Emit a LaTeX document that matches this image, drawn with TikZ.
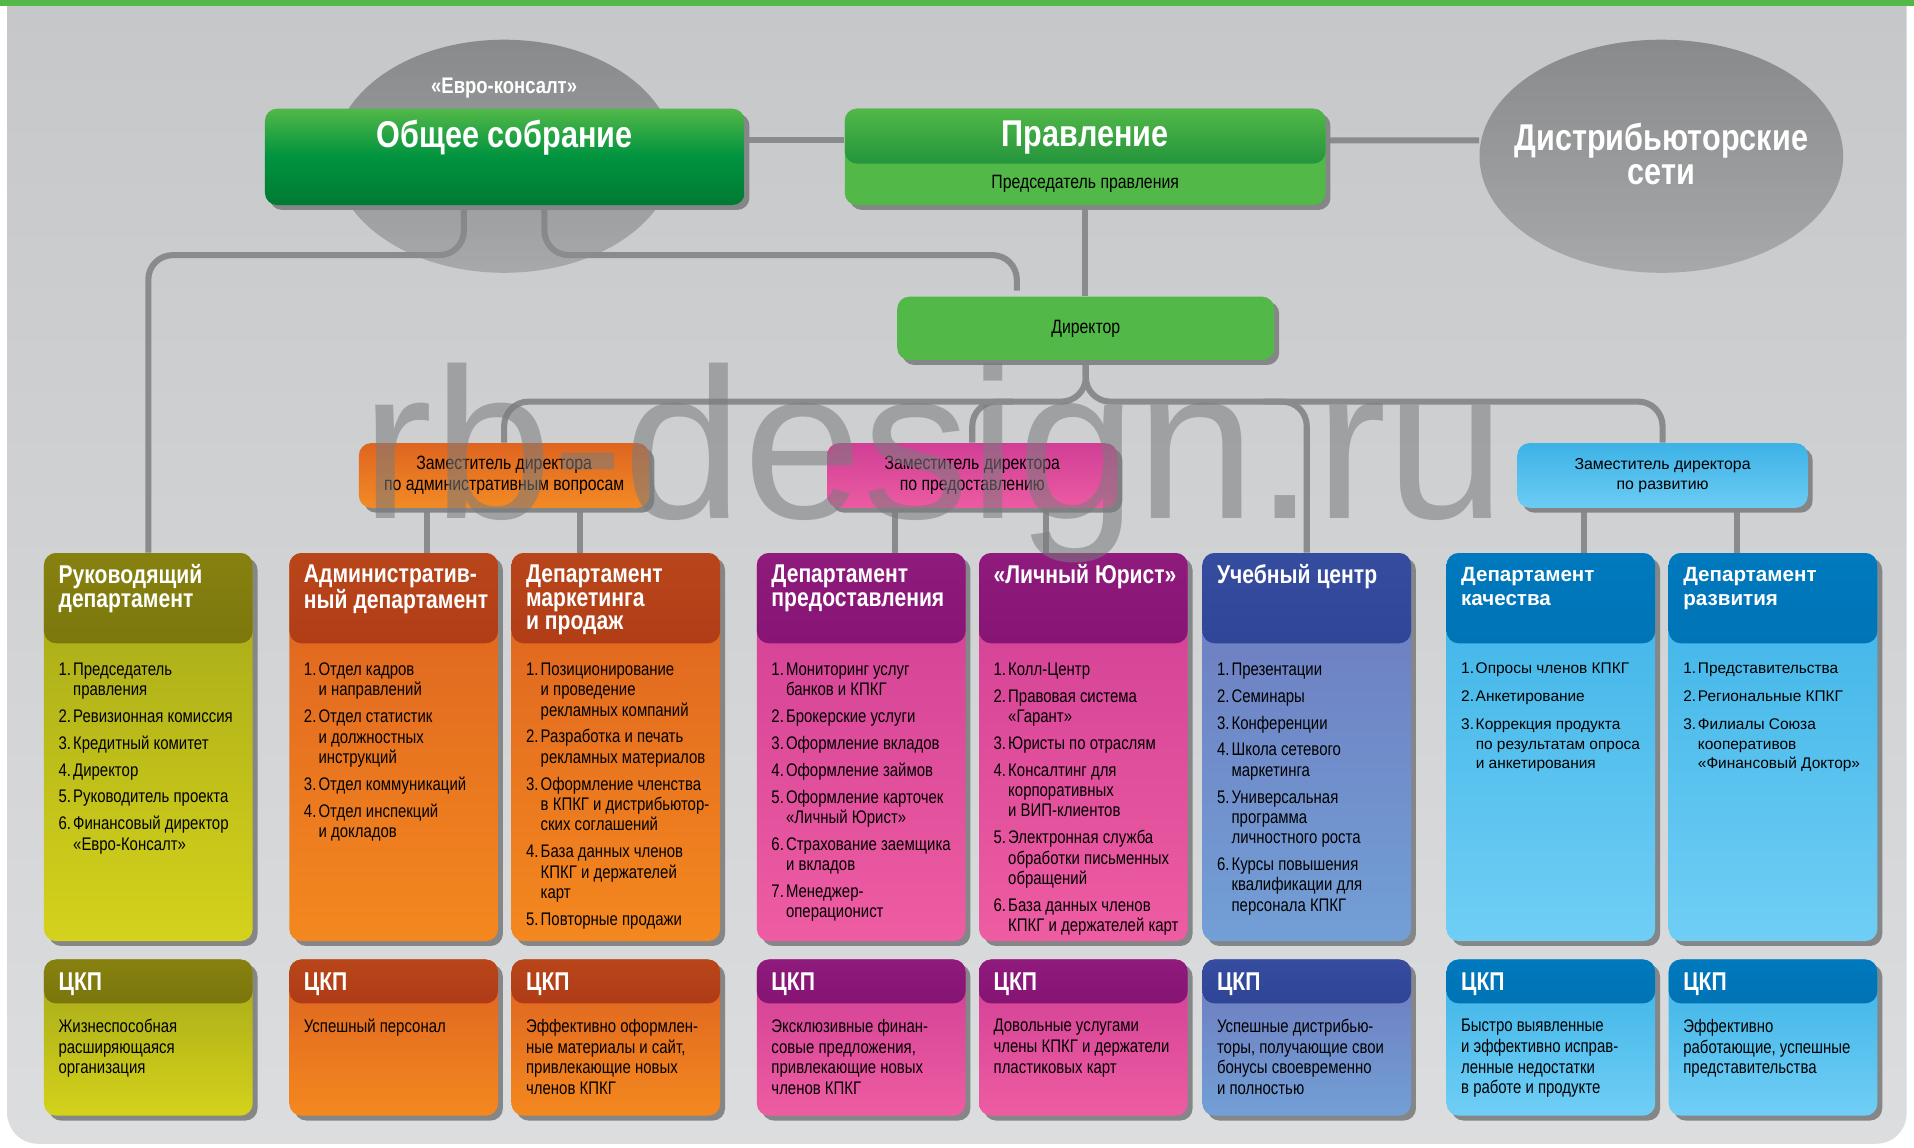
\documentclass[tikz,border=0pt]{standalone}
\usepackage{fontspec}
\setmainfont{Liberation Sans}
\newfontfamily\cond{Liberation Sans}[FakeStretch=0.82]
\usetikzlibrary{positioning}
\usetikzlibrary{shapes.geometric}
\usetikzlibrary{shadows}
\pgfdeclarelayer{bg}
\pgfdeclarelayer{lines}
\pgfdeclarelayer{halo}
\pgfdeclarelayer{front}
\pgfsetlayers{bg,lines,halo,main,front}
\definecolor{panA}{HTML}{C5C6C8}
\definecolor{panB}{HTML}{DCDDDF}
\definecolor{grn}{HTML}{52B848}
\definecolor{mgrn}{HTML}{00933F}
\definecolor{dgrn}{HTML}{007A33}
\definecolor{conngray}{HTML}{8A8B8D}
\definecolor{shdgray}{HTML}{858688}
\definecolor{haloA}{HTML}{606163}
\definecolor{haloB}{HTML}{909193}
\definecolor{wmgray}{HTML}{7A7B7D}
\definecolor{olA}{HTML}{86810F}
\definecolor{olB}{HTML}{5F5A05}
\definecolor{olC}{HTML}{A4A719}
\definecolor{olD}{HTML}{D4D21B}
\definecolor{ruA}{HTML}{B9461A}
\definecolor{ruB}{HTML}{94200D}
\definecolor{ruC}{HTML}{DC6120}
\definecolor{ruD}{HTML}{F4881F}
\definecolor{plA}{HTML}{8F1B7D}
\definecolor{plB}{HTML}{6B0158}
\definecolor{plC}{HTML}{CF3E94}
\definecolor{plD}{HTML}{EE5CA2}
\definecolor{nvA}{HTML}{364C9F}
\definecolor{nvB}{HTML}{1C317E}
\definecolor{nvC}{HTML}{6E79BD}
\definecolor{nvD}{HTML}{729FD6}
\definecolor{skA}{HTML}{0079BE}
\definecolor{skB}{HTML}{00649C}
\definecolor{skC}{HTML}{3AB2E6}
\definecolor{skD}{HTML}{70CEF5}
\definecolor{orA}{HTML}{DF6520}
\definecolor{orB}{HTML}{F28A25}
\definecolor{pkA}{HTML}{D03F95}
\definecolor{pkB}{HTML}{EC5BA2}
\definecolor{blA}{HTML}{3DB2E6}
\definecolor{blB}{HTML}{6BCCF4}
\newcommand{\nm}[1]{\makebox[6.8pt][l]{#1.}}
\newcommand{\hind}{\hspace*{6.8pt}}
\newcommand{\gap}{\\[3pt]}
\newcommand{\wgap}{\\[4pt]}
\tikzset{
  conn/.style = {draw = conngray, line width = 0.1cm},
  box/.style = {rounded corners = 0.2cm, inner sep = 0,
    drop shadow = {shadow xshift = 0.08cm, shadow yshift = -0.08cm, fill = shdgray, opacity = 1}},
  tone/.style n args = {5}{top color = #3, bottom color = #4,
    path picture = {\shade[top color = #1, bottom color = #2]
      (path picture bounding box.north west) rectangle ([yshift = -#5]path picture bounding box.north east);}},
  dept/.style = {box, minimum width = 3.42cm, minimum height = 6.36cm},
  ckp/.style = {box, minimum width = 3.42cm, minimum height = 2.56cm},
  halo/.style = {ellipse, inner sep = 0, top color = haloA, bottom color = haloB, fill opacity = 0.6},
  deputy/.style = {box, minimum width = 4.76cm, minimum height = 1.06cm, align = center,
    font = \cond\fontsize{9}{9.64}\selectfont},
  bigtitle/.style = {text = white, align = center, inner sep = 0, font = \cond\bfseries\fontsize{17.4}{15.9}\selectfont},
  dtitle/.style = {anchor = north west, inner sep = 0, align = left, text = white,
    font = \cond\bfseries\fontsize{12}{11.05}\selectfont},
  dtitlew/.style = {dtitle, font = \bfseries\fontsize{9.6}{11.05}\selectfont},
  dlist/.style = {anchor = north west, inner sep = 0, align = left,
    font = \cond\fontsize{8.5}{9.5}\selectfont},
  clist/.style = {dlist, font = \cond\fontsize{8.5}{9.64}\selectfont},
  dlistw/.style = {dlist, font = \fontsize{7.2}{9.1}\selectfont},
  wmark/.style = {anchor = base west, inner sep = 0, text = wmgray, text opacity = 0.55,
    font = \fontsize{100}{100}\selectfont}
}

\begin{document}
\begin{tikzpicture}[x = 0.02cm, y = -0.02cm]
  \useasboundingbox (0, 0) rectangle (1568, 940);
  \begin{pgfonlayer}{bg}
    \shade [top color = panA, bottom color = panB, rounded corners = 0.5cm] (6, -40) rectangle (1562, 937);
    \fill [grn] (0, 0) rectangle (1568, 5);
  \end{pgfonlayer}

  % top level
  \begin{pgfonlayer}{halo}
    \node [halo, minimum width = 5.58cm, minimum height = 3.82cm] (evro) at (413, 128) {};
    \node [halo, minimum width = 5.96cm, minimum height = 3.82cm] (dist) at (1361, 128) {};
  \end{pgfonlayer}
  \node [bigtitle] at ([yshift = 0.04cm]dist.center) {Дистрибьюторские\\сети};
  \node [text = white, font = \cond\bfseries\fontsize{10.5}{12}\selectfont] at ([yshift = -0.8cm]evro.north) {«Евро-консалт»};

  \node [box, minimum width = 7.86cm, minimum height = 1.58cm, top color = grn, bottom color = dgrn,
    middle color = mgrn] (obs) at (413.5, 128.5) {};
  \node [bigtitle] at ([yshift = 0.31cm]obs.center) {Общее собрание};

  \node [box, minimum width = 7.88cm, minimum height = 1.58cm, tone = {grn}{dgrn}{grn}{grn}{0.9cm}] (prav) at (889, 128.5) {};
  \node [bigtitle] at ([yshift = 0.31cm]prav.center) {Правление};
  \node [font = \cond\fontsize{9}{10}\selectfont] at ([yshift = -0.45cm]prav.center) {Председатель правления};

  \node [box, fill = grn, minimum width = 6.18cm, minimum height = 1.04cm,
    font = \cond\fontsize{9}{10}\selectfont] (dir) at (889.5, 269) {Директор};

  % deputies
  \node [deputy, top color = orA, bottom color = orB] (zamadm) at (413, 389.5) {Заместитель директора\\по административным вопросам};
  \node [deputy, top color = pkA, bottom color = pkB] (zamprov) at (796.5, 389.5) {Заместитель директора\\по предоставлению};
  \node [deputy, top color = blA, bottom color = blB, font = \fontsize{7.4}{9.64}\selectfont] (zamraz) at (1362, 389.5) {Заместитель директора\\по развитию};

  % departments
  \node [dept, tone = {olA}{olB}{olC}{olD}{1.48cm}] (ruk) at (121.5, 612) {};
  \node [dtitle] at ([xshift = 0.24cm, yshift = -0.19cm]ruk.north west) {Руководящий\\департамент};
  \node [dlist] at ([xshift = 0.24cm, yshift = -1.8cm]ruk.north west) {\nm{1}Председатель\\\hind правления\gap
    \nm{2}Ревизионная комиссия\gap \nm{3}Кредитный комитет\gap \nm{4}Директор\gap
    \nm{5}Руководитель проекта\gap \nm{6}Финансовый директор\\\hind «Евро-Консалт»};

  \node [dept, tone = {ruA}{ruB}{ruC}{ruD}{1.48cm}] (adm) at (322.5, 612) {};
  \node [dtitle] at ([xshift = 0.24cm, yshift = -0.19cm]adm.north west) {Административ-\\ный департамент};
  \node [dlist] at ([xshift = 0.24cm, yshift = -1.8cm]adm.north west) {\nm{1}Отдел кадров\\\hind и направлений\gap
    \nm{2}Отдел статистик\\\hind и должностных\\\hind инструкций\gap \nm{3}Отдел коммуникаций\gap
    \nm{4}Отдел инспекций\\\hind и докладов};

  \node [dept, tone = {ruA}{ruB}{ruC}{ruD}{1.48cm}] (mark) at (504.5, 612) {};
  \node [dtitle] at ([xshift = 0.24cm, yshift = -0.19cm]mark.north west) {Департамент\\маркетинга\\и продаж};
  \node [dlist] at ([xshift = 0.24cm, yshift = -1.8cm]mark.north west) {\nm{1}Позиционирование\\\hind и проведение\\\hind рекламных компаний\gap
    \nm{2}Разработка и печать\\\hind рекламных материалов\gap
    \nm{3}Оформление членства\\\hind в КПКГ и дистрибьютор-\\\hind ских соглашений\gap
    \nm{4}База данных членов\\\hind КПКГ и держателей\\\hind карт\gap \nm{5}Повторные продажи};

  \node [dept, tone = {plA}{plB}{plC}{plD}{1.48cm}] (prov) at (705.5, 612) {};
  \node [dtitle] at ([xshift = 0.24cm, yshift = -0.19cm]prov.north west) {Департамент\\предоставления};
  \node [dlist] at ([xshift = 0.24cm, yshift = -1.8cm]prov.north west) {\nm{1}Мониторинг услуг\\\hind банков и КПКГ\gap
    \nm{2}Брокерские услуги\gap \nm{3}Оформление вкладов\gap \nm{4}Оформление займов\gap
    \nm{5}Оформление карточек\\\hind «Личный Юрист»\gap \nm{6}Страхование заемщика\\\hind и вкладов\gap
    \nm{7}Менеджер-\\\hind операционист};

  \node [dept, tone = {plA}{plB}{plC}{plD}{1.48cm}] (jur) at (887.5, 612) {};
  \node [dtitle] at ([xshift = 0.24cm, yshift = -0.19cm]jur.north west) {«Личный Юрист»};
  \node [dlist] at ([xshift = 0.24cm, yshift = -1.8cm]jur.north west) {\nm{1}Колл-Центр\gap
    \nm{2}Правовая система\\\hind «Гарант»\gap \nm{3}Юристы по отраслям\gap
    \nm{4}Консалтинг для\\\hind корпоративных\\\hind и ВИП-клиентов\gap
    \nm{5}Электронная служба\\\hind обработки письменных\\\hind обращений\gap
    \nm{6}База данных членов\\\hind КПКГ и держателей карт};

  \node [dept, tone = {nvA}{nvB}{nvC}{nvD}{1.48cm}] (ucheb) at (1070.5, 612) {};
  \node [dtitle] at ([xshift = 0.24cm, yshift = -0.19cm]ucheb.north west) {Учебный центр};
  \node [dlist] at ([xshift = 0.24cm, yshift = -1.8cm]ucheb.north west) {\nm{1}Презентации\gap
    \nm{2}Семинары\gap \nm{3}Конференции\gap \nm{4}Школа сетевого\\\hind маркетинга\gap
    \nm{5}Универсальная\\\hind программа\\\hind личностного роста\gap
    \nm{6}Курсы повышения\\\hind квалификации для\\\hind персонала КПКГ};

  \node [dept, tone = {skA}{skB}{skC}{skD}{1.48cm}] (kach) at (1270.5, 612) {};
  \node [dtitlew] at ([xshift = 0.24cm, yshift = -0.24cm]kach.north west) {Департамент\\качества};
  \node [dlistw] at ([xshift = 0.24cm, yshift = -1.8cm]kach.north west) {\nm{1}Опросы членов КПКГ\wgap
    \nm{2}Анкетирование\wgap \nm{3}Коррекция продукта\\\hind по результатам опроса\\\hind и анкетирования};

  \node [dept, tone = {skA}{skB}{skC}{skD}{1.48cm}] (razv) at (1452.5, 612) {};
  \node [dtitlew] at ([xshift = 0.24cm, yshift = -0.24cm]razv.north west) {Департамент\\развития};
  \node [dlistw] at ([xshift = 0.24cm, yshift = -1.8cm]razv.north west) {\nm{1}Представительства\wgap
    \nm{2}Региональные КПКГ\wgap \nm{3}Филиалы Союза\\\hind кооперативов\\\hind «Финансовый Доктор»};

  % CKP row
  \node [ckp, tone = {olA}{olB}{olC}{olD}{0.72cm}] (rukc) at (121.5, 850) {};
  \node [ckp, tone = {ruA}{ruB}{ruC}{ruD}{0.72cm}] (admc) at (322.5, 850) {};
  \node [ckp, tone = {ruA}{ruB}{ruC}{ruD}{0.72cm}] (markc) at (504.5, 850) {};
  \node [ckp, tone = {plA}{plB}{plC}{plD}{0.72cm}] (provc) at (705.5, 850) {};
  \node [ckp, tone = {plA}{plB}{plC}{plD}{0.72cm}] (jurc) at (887.5, 850) {};
  \node [ckp, tone = {nvA}{nvB}{nvC}{nvD}{0.72cm}] (uchebc) at (1070.5, 850) {};
  \node [ckp, tone = {skA}{skB}{skC}{skD}{0.72cm}] (kachc) at (1270.5, 850) {};
  \node [ckp, tone = {skA}{skB}{skC}{skD}{0.72cm}] (razvc) at (1452.5, 850) {};
  \foreach \c in {rukc, admc, markc, provc, jurc, uchebc, kachc, razvc}
    \node [dtitle] at ([xshift = 0.24cm, yshift = -0.22cm]\c.north west) {ЦКП};
  \node [clist] at ([xshift = 0.24cm, yshift = -0.98cm]rukc.north west) {Жизнеспособная\\расширяющаяся\\организация};
  \node [clist] at ([xshift = 0.24cm, yshift = -0.98cm]admc.north west) {Успешный персонал};
  \node [clist] at ([xshift = 0.24cm, yshift = -0.98cm]markc.north west) {Эффективно оформлен-\\ные материалы и сайт,\\привлекающие новых\\членов КПКГ};
  \node [clist] at ([xshift = 0.24cm, yshift = -0.98cm]provc.north west) {Эксклюзивные финан-\\совые предложения,\\привлекающие новых\\членов КПКГ};
  \node [clist] at ([xshift = 0.24cm, yshift = -0.98cm]jurc.north west) {Довольные услугами\\члены КПКГ и держатели\\пластиковых карт};
  \node [clist] at ([xshift = 0.24cm, yshift = -0.98cm]uchebc.north west) {Успешные дистрибью-\\торы, получающие свои\\бонусы своевременно\\и полностью};
  \node [clist] at ([xshift = 0.24cm, yshift = -0.98cm]kachc.north west) {Быстро выявленные\\и эффективно исправ-\\ленные недостатки\\в работе и продукте};
  \node [clist] at ([xshift = 0.24cm, yshift = -0.98cm]razvc.north west) {Эффективно\\работающие, успешные\\представительства};

  % connectors
  \coordinate (obus) at (0, 209);
  \coordinate (bus) at (0, 329);
  \coordinate (dirtop) at (833, 238);
  \coordinate (b1) at (830, 329);
  \coordinate (b2) at (1035, 329);
  \begin{pgfonlayer}{lines}
    \draw [conn] ([yshift = 0.27cm]obs.east) -- ([yshift = 0.27cm]prav.west);
    \draw [conn] ([yshift = 0.27cm]prav.east) -- (dist.west |- 0, 115);
    \draw [conn] (prav.south) -- (prav.south |- dir.north);
    \draw [conn, rounded corners = 0.4cm] ([xshift = -0.67cm]obs.south) |- (obus -| ruk.north) -- (ruk.north);
    \draw [conn, rounded corners = 0.4cm] ([xshift = 0.65cm]obs.south) |- (obus -| dirtop) -- (dirtop);
    \draw [conn, rounded corners = 0.4cm] (dir.south) |- (bus -| zamadm.north) -- (zamadm.north);
    \draw [conn, rounded corners = 0.4cm] (dir.south) |- (bus -| zamraz.north) -- (zamraz.north);
    \draw [conn, rounded corners = 0.4cm] (b1) -| (zamprov.north);
    \draw [conn, rounded corners = 0.4cm] (b2) -| (ucheb.north);
    \draw [conn] (zamadm.south -| 350, 0) -- (adm.north -| 350, 0);
    \draw [conn] (zamadm.south -| 475, 0) -- (mark.north -| 475, 0);
    \draw [conn] (zamprov.south -| 733, 0) -- (prov.north -| 733, 0);
    \draw [conn] (zamprov.south -| 857, 0) -- (jur.north -| 857, 0);
    \draw [conn] (zamraz.south -| 1298, 0) -- (kach.north -| 1298, 0);
    \draw [conn] (zamraz.south -| 1423, 0) -- (razv.north -| 1423, 0);
  \end{pgfonlayer}

  \begin{pgfonlayer}{front}
    \node [wmark] at (296, 425) {rb-design.ru};
  \end{pgfonlayer}
\end{tikzpicture}
\end{document}
